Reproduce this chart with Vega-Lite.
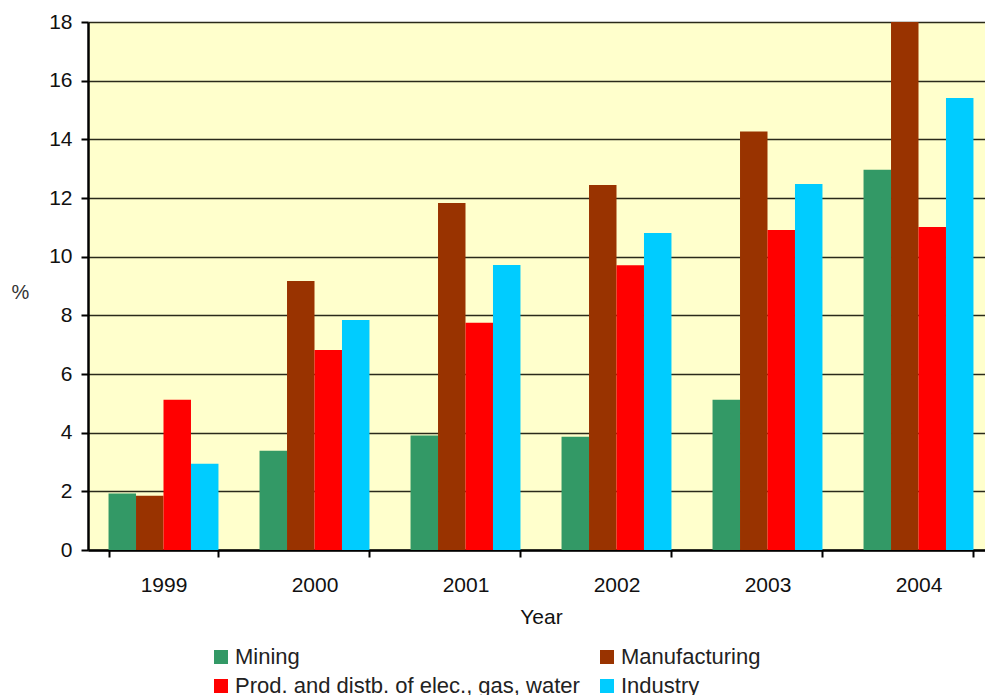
{
  "$schema": "https://vega.github.io/schema/vega-lite/v6.json",
  "width": 906,
  "height": 528,
  "autosize": {"type": "none"},
  "padding": {"left": 88, "top": 22, "right": 0, "bottom": 145},
  "background": "white",
  "config": {
    "font": "Liberation Sans",
    "view": {"fill": "#FFFFCC", "stroke": null}
  },
  "data": {
    "values": [
      {"year": "1999", "sector": "Mining", "value": 1.93},
      {"year": "1999", "sector": "Manufacturing", "value": 1.85},
      {"year": "1999", "sector": "Prod. and distb. of elec., gas, water", "value": 5.12},
      {"year": "1999", "sector": "Industry", "value": 2.94},
      {"year": "2000", "sector": "Mining", "value": 3.38},
      {"year": "2000", "sector": "Manufacturing", "value": 9.17},
      {"year": "2000", "sector": "Prod. and distb. of elec., gas, water", "value": 6.82},
      {"year": "2000", "sector": "Industry", "value": 7.84},
      {"year": "2001", "sector": "Mining", "value": 3.9},
      {"year": "2001", "sector": "Manufacturing", "value": 11.83},
      {"year": "2001", "sector": "Prod. and distb. of elec., gas, water", "value": 7.75},
      {"year": "2001", "sector": "Industry", "value": 9.72},
      {"year": "2002", "sector": "Mining", "value": 3.86},
      {"year": "2002", "sector": "Manufacturing", "value": 12.44},
      {"year": "2002", "sector": "Prod. and distb. of elec., gas, water", "value": 9.71},
      {"year": "2002", "sector": "Industry", "value": 10.81},
      {"year": "2003", "sector": "Mining", "value": 5.12},
      {"year": "2003", "sector": "Manufacturing", "value": 14.27},
      {"year": "2003", "sector": "Prod. and distb. of elec., gas, water", "value": 10.91},
      {"year": "2003", "sector": "Industry", "value": 12.48},
      {"year": "2004", "sector": "Mining", "value": 12.96},
      {"year": "2004", "sector": "Manufacturing", "value": 18},
      {"year": "2004", "sector": "Prod. and distb. of elec., gas, water", "value": 11.01},
      {"year": "2004", "sector": "Industry", "value": 15.41}
    ]
  },
  "mark": {"type": "bar"},
  "encoding": {
    "x": {
      "field": "year",
      "type": "nominal",
      "scale": {"paddingInner": 0.272, "paddingOuter": 0.136},
      "axis": {
        "title": "Year",
        "labelAngle": 0,
        "labelFontSize": 21,
        "labelColor": "#111",
        "labelPadding": 17,
        "titleFontSize": 21,
        "titleFontWeight": "normal",
        "titleColor": "#111",
        "titlePadding": 11,
        "tickBand": "extent",
        "tickSize": 7,
        "tickWidth": 2,
        "tickColor": "#000",
        "domainColor": "#000",
        "domainWidth": 2.5,
        "grid": false
      }
    },
    "xOffset": {
      "field": "sector",
      "type": "nominal",
      "sort": ["Mining", "Manufacturing", "Prod. and distb. of elec., gas, water", "Industry"],
      "scale": {"paddingInner": 0, "paddingOuter": 0}
    },
    "y": {
      "field": "value",
      "type": "quantitative",
      "scale": {"domain": [0, 18], "nice": false},
      "axis": {
        "title": "%",
        "titleAngle": 0,
        "titleX": -68,
        "titleY": 270,
        "titleAlign": "center",
        "titleBaseline": "middle",
        "titleFontSize": 20,
        "titleFontWeight": "normal",
        "titleColor": "#333",
        "values": [0, 2, 4, 6, 8, 10, 12, 14, 16, 18],
        "labelFontSize": 21,
        "labelColor": "#111",
        "labelPadding": 9,
        "tickSize": 7,
        "tickWidth": 2,
        "tickColor": "#000",
        "domainColor": "#000",
        "domainWidth": 2.5,
        "grid": true,
        "gridColor": "#2a2a1a",
        "gridWidth": 1.3
      }
    },
    "color": {
      "field": "sector",
      "type": "nominal",
      "sort": ["Mining", "Manufacturing", "Prod. and distb. of elec., gas, water", "Industry"],
      "scale": {
        "domain": ["Mining", "Manufacturing", "Prod. and distb. of elec., gas, water", "Industry"],
        "range": ["#339966", "#993300", "#FF0000", "#00CCFF"]
      },
      "legend": {
        "title": null,
        "orient": "none",
        "direction": "horizontal",
        "legendX": 122,
        "legendY": 624,
        "columns": 2,
        "columnPadding": 16,
        "rowPadding": 7,
        "symbolType": "square",
        "symbolSize": 196,
        "symbolStrokeWidth": 0,
        "symbolOffset": 0,
        "labelOffset": 3,
        "labelFontSize": 22,
        "labelColor": "#222",
        "labelLimit": 500
      }
    }
  }
}
